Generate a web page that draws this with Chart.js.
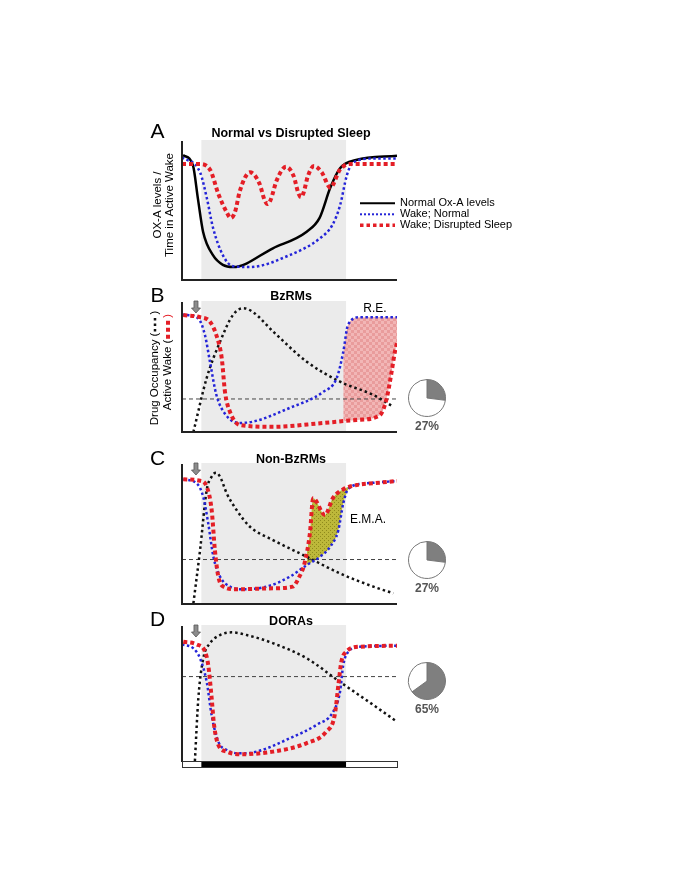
<!DOCTYPE html>
<html>
<head>
<meta charset="utf-8">
<script src="https://cdn.jsdelivr.net/npm/chart.js@4.4.1/dist/chart.umd.min.js"></script>
<style>
  body { margin: 0; background: #fff; width: 685px; height: 886px; position: relative; overflow: hidden; }
  canvas { position: absolute; }
</style>
</head>
<body>
<canvas id="chartA" width="685" height="185" style="left:0;top:105px"></canvas>
<canvas id="chartB" width="685" height="160" style="left:0;top:285px"></canvas>
<canvas id="chartC" width="685" height="165" style="left:0;top:448px"></canvas>
<canvas id="chartD" width="685" height="170" style="left:0;top:605px"></canvas>
<canvas id="pieB" width="40" height="62" style="left:407px;top:378px"></canvas>
<canvas id="pieC" width="40" height="62" style="left:407px;top:540px"></canvas>
<canvas id="pieD" width="40" height="62" style="left:407px;top:661px"></canvas>
<script>
// time runs 0..100 across each plot, levels 0..100
const sleepPeriod = [9, 76.3];
const doseTime = 6.5;

// A - normal vs disrupted sleep
const oxaNormalA = [[0.5,90.6],[5.1,83],[7.4,59],[9.8,35],[14.4,18],[19,11],[23.7,9.4],[42.3,23],[58,35],[64,45],[69,67],[73.5,81],[81,87],[100,90]];
const wakeNormalA = [[0,89],[8.4,78],[11.6,59],[14.4,38],[19,18],[23.7,10],[31.6,9.4],[50,18],[64,30],[70,40],[73.5,54],[76.7,76],[79.5,85],[89,88],[100,88]];
const wakeDisruptedA = [[0,84],[8,84],[13,80],[17,62],[20.8,49],[22.7,45],[24.6,49],[27,65],[31.6,78],[36,70],[38.4,58],[39.8,55],[41.2,58],[44,72],[48.4,82],[52,75],[54.1,63],[55.3,60],[56.5,63],[58.5,75],[61.4,82.6],[65,78],[69,67],[73.5,80],[78,84],[100,84]];

// B - BzRMs
const wakeNormalB = [[0,91],[2.2,90.7],[7.6,88],[10.7,75],[13,54.5],[16,28.7],[20.5,13],[26.5,7],[33,8],[50,18.6],[65.6,31],[72,42],[75,62],[77.2,83],[82.8,89],[100,89]];
const wakeDrugB = [[0.6,90.7],[8.4,89],[13,85.5],[16,75],[18.5,57],[20,31],[22.3,15.7],[26.9,5.4],[42.3,4],[65.6,7],[81.2,9.3],[92,13],[95.2,26],[97.5,46.7],[99,62],[100,69]];
const occupancyB = [[5.3,0],[11.5,42],[17.7,70],[23.7,90.7],[28.5,96],[33,93],[42.5,77.7],[58,54.5],[73.5,39],[89,28.7],[98.3,19.6]];
const thresholdB = 25.6;

// C - Non-BzRMs
const wakeNormalC = [[0.6,89.7],[6.8,86.8],[9.9,77],[12.2,58],[14.6,34],[17.7,19.7],[22.3,12.5],[28.5,10.6],[39.4,12.5],[50.2,19.7],[58,28],[64.2,34],[68.8,41],[72.7,53],[75,72.4],[77.4,83],[85.9,86.8],[100,88.5]];
const wakeDrugC = [[0.6,89.7],[8.4,88.7],[11.5,84.4],[13.8,67.6],[15.3,38.8],[16.9,19.7],[19.2,12.5],[25.4,10.6],[42.3,11.3],[51.5,12.5],[54.6,19.7],[57,29.3],[59.5,51],[61,76],[66.5,64],[70.1,76],[75,82.5],[81.3,85.6],[90,87],[100,88.5]];
const occupancyC = [[5.3,0.5],[8.4,38.8],[11.5,82],[13.8,91.6],[15.8,94.5],[17.7,91.6],[20.8,79.6],[25.4,67.6],[31.6,55.6],[42.3,46],[58,34],[73.5,22],[89,12.5],[98.3,7.7]];
const thresholdC = 32;

// D - DORAs
const wakeNormalD = [[0,87],[5.3,84],[8.4,76.6],[11.5,59],[13.8,34],[16.9,14.4],[20.8,8.2],[26.9,5.7],[34.7,7],[50.2,17],[62.6,27],[70.4,37],[73.5,51.7],[75,71.6],[77.4,81.6],[82.8,85.3],[100,86]];
const wakeDrugD = [[0.6,89],[6.8,87],[10.7,81.6],[12.2,71.6],[13.8,46.8],[14.9,27],[16.9,12],[20.8,7],[26.9,5],[42.3,7],[57.8,13.2],[67.1,21.9],[71,34],[72.9,59],[74.1,74],[76.4,81.6],[82.8,85.3],[100,86]];
const occupancyD = [[6,0],[7.6,46.8],[9.9,76.6],[13,87.8],[17.7,94],[23.1,96],[30.1,94],[42.5,87.8],[58,76.6],[73.5,59],[89,41.8],[100,29.3]];
const thresholdD = 63;

// pies: share in grey
const pieShares = [27, 27, 65];

const FONT = "'Liberation Sans', Arial, sans-serif";
const BLUE = '#2424d8', RED = '#e41e26';

const pts = arr => arr.map(p => ({x: p[0], y: p[1]}));

function makePattern(c1, c2, size, dots) {
  const p = document.createElement('canvas');
  p.width = p.height = size * 2;
  const g = p.getContext('2d');
  g.fillStyle = c1; g.fillRect(0, 0, size * 2, size * 2);
  g.fillStyle = c2;
  if (dots) { g.fillRect(0, 0, 1, 1); g.fillRect(size, size, 1, 1); }
  else { g.fillRect(0, 0, size, size); g.fillRect(size, size, size, size); }
  return g.createPattern(p, 'repeat');
}

const styles = {
  oxa:   {borderColor: '#000', borderWidth: 2.5},
  wake:  {borderColor: BLUE, borderWidth: 2.5, borderDash: [2.5, 2.5]},
  drug:  {borderColor: RED, borderWidth: 4, borderDash: [4, 3]},
  occ:   {borderColor: '#111', borderWidth: 2.5, borderDash: [2.5, 3]},
  thr:   {borderColor: '#444', borderWidth: 1, borderDash: [4, 3]}
};

function ds(data, style, order) {
  return Object.assign({data: pts(data), pointRadius: 0, fill: false, cubicInterpolationMode: 'monotone', borderCapStyle: 'butt', order: order}, style);
}

const panelDecor = {
  id: 'panelDecor',
  beforeDatasetsDraw(chart, args, o) {
    const {ctx, chartArea: a, scales: {x}} = chart;
    const x0 = x.getPixelForValue(sleepPeriod[0]), x1 = x.getPixelForValue(sleepPeriod[1]);
    ctx.save();
    ctx.fillStyle = '#ebebeb';
    ctx.fillRect(x0, a.top - 2, x1 - x0, a.bottom - a.top + 2);
    ctx.restore();
  },
  afterDraw(chart, args, o) {
    const {ctx, chartArea: a, scales: {x}} = chart;
    ctx.save();
    // axes
    ctx.strokeStyle = '#222'; ctx.lineWidth = 2;
    ctx.beginPath(); ctx.moveTo(a.left, a.top - 1); ctx.lineTo(a.left, a.bottom + 1); ctx.stroke();
    if (o.bar) {
      const x0 = x.getPixelForValue(sleepPeriod[0]), x1 = x.getPixelForValue(sleepPeriod[1]);
      ctx.fillStyle = '#fff'; ctx.fillRect(a.left, a.bottom, a.right - a.left, 6);
      ctx.fillStyle = '#000'; ctx.fillRect(x0, a.bottom, x1 - x0, 6);
      ctx.lineWidth = 1; ctx.strokeStyle = '#333';
      ctx.strokeRect(a.left + 0.5, a.bottom + 0.5, a.right - a.left, 6);
    } else {
      ctx.beginPath(); ctx.moveTo(a.left - 1, a.bottom); ctx.lineTo(a.right, a.bottom); ctx.stroke();
    }
    // dose arrow
    if (o.arrow) {
      const ax = x.getPixelForValue(doseTime), t = a.top - 2;
      ctx.fillStyle = '#8c8c8c'; ctx.strokeStyle = '#555'; ctx.lineWidth = 0.8;
      ctx.beginPath();
      ctx.moveTo(ax - 2, t); ctx.lineTo(ax + 2, t); ctx.lineTo(ax + 2, t + 7);
      ctx.lineTo(ax + 4.5, t + 7); ctx.lineTo(ax, t + 12); ctx.lineTo(ax - 4.5, t + 7);
      ctx.lineTo(ax - 2, t + 7); ctx.closePath(); ctx.fill(); ctx.stroke();
    }
    // letter and title
    ctx.fillStyle = '#000'; ctx.textBaseline = 'middle';
    ctx.textAlign = 'center';
    ctx.font = '21px ' + FONT;
    ctx.fillText(o.letter, 157.5, o.letterY);
    ctx.font = 'bold 12.5px ' + FONT;
    ctx.fillText(o.title, 291, o.titleY);
    // notes
    (o.notes || []).forEach(n => {
      ctx.font = '12px ' + FONT; ctx.textAlign = 'center';
      ctx.fillText(n.text, n.x, n.y);
    });
    // y labels (rotated), with optional dotted key inside brackets
    (o.ylabels || []).forEach(l => {
      ctx.save();
      ctx.translate(l.x, l.y); ctx.rotate(-Math.PI / 2);
      ctx.font = '11.5px ' + FONT; ctx.textAlign = 'left';
      const w1 = ctx.measureText(l.text).width;
      const seg = l.key ? l.seg : 0;
      const w2 = l.key ? ctx.measureText(')').width : 0;
      let s = -(w1 + seg + w2) / 2;
      ctx.fillText(l.text, s, 0);
      if (l.key) {
        const st = styles[l.key];
        ctx.strokeStyle = st.borderColor; ctx.lineWidth = st.borderWidth; ctx.setLineDash(st.borderDash);
        ctx.beginPath(); ctx.moveTo(s + w1 + 1, 0); ctx.lineTo(s + w1 + seg - 1, 0); ctx.stroke();
        ctx.setLineDash([]);
        ctx.fillStyle = l.key === 'drug' ? RED : '#000';
        ctx.fillText(')', s + w1 + seg, 0);
      }
      ctx.restore();
    });
    // legend
    (o.legend || []).forEach((g, i) => {
      const st = styles[g.key], y = o.legendY + i * 11;
      ctx.strokeStyle = st.borderColor; ctx.lineWidth = g.key === 'drug' ? 3.5 : 2;
      ctx.setLineDash(g.key === 'oxa' ? [] : (g.key === 'drug' ? [3.5, 3] : [2, 2]));
      ctx.beginPath(); ctx.moveTo(360, y); ctx.lineTo(395, y); ctx.stroke();
      ctx.setLineDash([]);
      ctx.fillStyle = '#000'; ctx.font = '11px ' + FONT; ctx.textAlign = 'left';
      ctx.fillText(g.text, 400, y);
    });
    ctx.restore();
  }
};

function panel(id, padTop, padBottom, datasets, decor) {
  return new Chart(document.getElementById(id), {
    type: 'line',
    data: {datasets: datasets},
    options: {
      responsive: false, animation: false,
      layout: {padding: {left: 182, right: 288, top: padTop, bottom: padBottom}},
      scales: {
        x: {type: 'linear', min: 0, max: 100, display: false},
        y: {min: 0, max: 100, display: false}
      },
      plugins: {legend: {display: false}, tooltip: {enabled: false}, panelDecor: decor}
    },
    plugins: [panelDecor]
  });
}

function drugPanel(wake, drug, occ, thr, fillPts, fillBg) {
  const list = [
    ds(drug, styles.drug, 0),
    ds(wake, styles.wake, 1),
    ds(occ, styles.occ, 2),
    ds([[0, thr], [100, thr]], styles.thr, 3)
  ];
  if (fillPts) {
    list.push({data: pts(fillPts), pointRadius: 0, borderColor: 'transparent', cubicInterpolationMode: 'monotone',
      fill: {target: 0}, backgroundColor: fillBg, order: 9});
  }
  return list;
}

window.onload = function() {
  const reFill = makePattern('#f2b6b6', '#e99c9c', 3, false);
  const emaFill = makePattern('#bdb83a', '#8f8a1c', 2, true);

  panel('chartA', 37, 10, [
    ds(wakeDisruptedA, styles.drug, 0),
    ds(wakeNormalA, styles.wake, 1),
    ds(oxaNormalA, styles.oxa, 2)
  ], {
    letter: 'A', letterY: 27.5, title: 'Normal vs Disrupted Sleep', titleY: 29,
    ylabels: [{text: 'OX-A levels /', x: 158.3, y: 100}, {text: 'Time in Active Wake', x: 170, y: 100}],
    legendY: 98.3,
    legend: [{key: 'oxa', text: 'Normal Ox-A levels'}, {key: 'wake', text: 'Wake; Normal'}, {key: 'drug', text: 'Wake; Disrupted Sleep'}]
  });

  panel('chartB', 18, 13,
    drugPanel(wakeNormalB, wakeDrugB, occupancyB, thresholdB, wakeNormalB.filter(p => p[0] >= 75), reFill), {
    letter: 'B', letterY: 11, title: 'BzRMs', titleY: 11.7, arrow: true,
    notes: [{text: 'R.E.', x: 375, y: 23.3}],
    ylabels: [{text: 'Drug Occupancy (', key: 'occ', seg: 18, x: 155, y: 83},
              {text: 'Active Wake (', key: 'drug', seg: 22, x: 168, y: 77}]
  });

  panel('chartC', 17, 9,
    drugPanel(wakeNormalC, wakeDrugC, occupancyC, thresholdC, wakeNormalC.filter(p => p[0] >= 57 && p[0] <= 78), emaFill), {
    letter: 'C', letterY: 11, title: 'Non-BzRMs', titleY: 12, arrow: true,
    notes: [{text: 'E.M.A.', x: 368, y: 72}]
  });

  panel('chartD', 22, 14,
    drugPanel(wakeNormalD, wakeDrugD, occupancyD, thresholdD, null, null), {
    letter: 'D', letterY: 15, title: 'DORAs', titleY: 16.7, arrow: true, bar: true
  });

  const pieText = {
    id: 'pieText',
    afterDraw(chart) {
      const {ctx, chartArea: a} = chart;
      ctx.save();
      ctx.fillStyle = '#555'; ctx.font = 'bold 12px ' + FONT;
      ctx.textAlign = 'center'; ctx.textBaseline = 'middle';
      ctx.fillText(chart.data.labels[0], (a.left + a.right) / 2, a.bottom + 10);
      ctx.restore();
    }
  };
  ['pieB', 'pieC', 'pieD'].forEach((id, i) => {
    new Chart(document.getElementById(id), {
      type: 'pie',
      data: {
        labels: [pieShares[i] + '%', ''],
        datasets: [{data: [pieShares[i], 100 - pieShares[i]], backgroundColor: ['#7f7f7f', '#fff'],
          borderColor: '#777', borderWidth: 1}]
      },
      options: {
        responsive: false, animation: false,
        layout: {padding: {left: 1, right: 1, top: 1, bottom: 23}},
        plugins: {legend: {display: false}, tooltip: {enabled: false}}
      },
      plugins: [pieText]
    });
  });
};
</script>
</body>
</html>
